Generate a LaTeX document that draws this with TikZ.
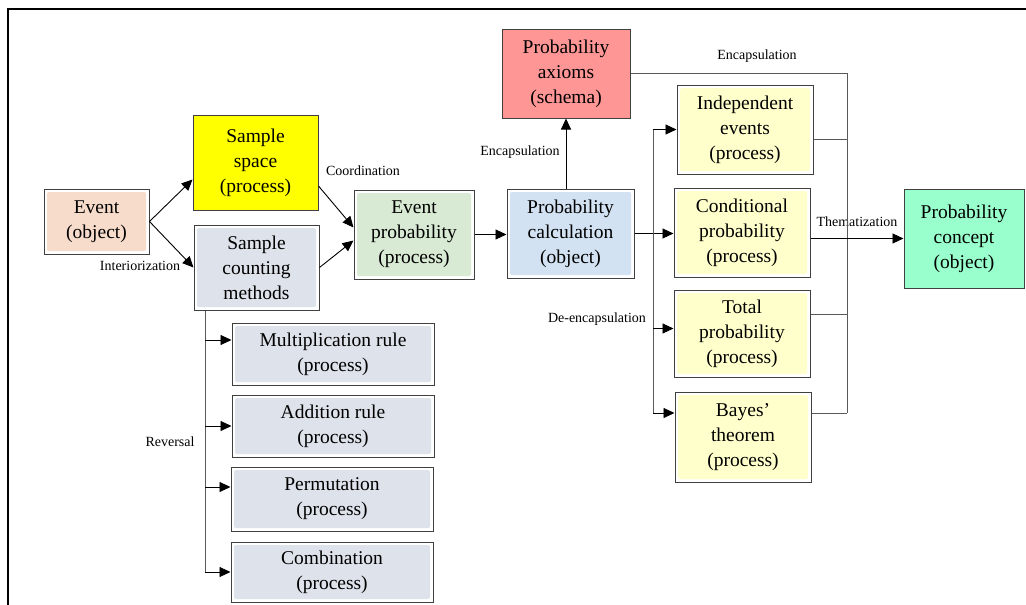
\documentclass[tikz,border=0pt]{standalone}
\usepackage{fontspec}
\setmainfont{Liberation Serif}
\usetikzlibrary{arrows.meta}

\definecolor{eventc}{HTML}{F8DCCB}
\definecolor{spacec}{HTML}{FFFF00}
\definecolor{countc}{HTML}{DEE2EA}
\definecolor{eprobc}{HTML}{D8EAD3}
\definecolor{calcc}{HTML}{D2E2F2}
\definecolor{axiomc}{HTML}{FF9696}
\definecolor{procc}{HTML}{FFFFCC}
\definecolor{conceptc}{HTML}{99FFCC}

\begin{document}
\begin{tikzpicture}
    [ x = 1pt, y = -1pt
    , box/.style =
      { draw = black!75, line width = 1pt, align = center, inner sep = 2pt
      , font = \fontsize{19.5}{25}\selectfont }
    , glow/.style =
      { fill = white
      , path picture =
        { \fill [#1, rounded corners = 2pt]
            ([shift={(3pt,-3pt)}]path picture bounding box.north west) rectangle
            ([shift={(-3pt,3pt)}]path picture bounding box.south east); } }
    , dims/.style 2 args =
      { minimum width = #1pt, minimum height = #2pt }
    , link/.style =
      { draw = black!65, line width = .9pt }
    , arrow/.style =
      { draw = black, line width = .9pt, -{Triangle[length=11pt,width=10pt]} }
    , tag/.style =
      { font = \fontsize{14}{15}\selectfont, inner sep = 0pt }
    ]
    \useasboundingbox (0,0) rectangle (1026,605);
    \draw [line width = 2pt] (8,606) -- (8,9) -- (1027,9);

    % objects and processes
    \node [box, glow=eventc, dims={105}{65}] (event) at (96.5,221.5) {Event\\(object)};
    \node [box, fill=spacec, dims={125}{95}] (space) at (255.5,162.5) {Sample\\space\\(process)};
    \node [box, glow=countc, dims={125}{85}] (count) at (256.5,267.5) {Sample\\counting\\methods};
    \node [box, glow=eprobc, dims={120}{89}] (eprob) at (414,234.5) {Event\\probability\\(process)};
    \node [box, glow=calcc, dims={127}{89}] (calc) at (570.5,233.5) {Probability\\calculation\\(object)};
    \node [box, fill=axiomc, dims={128}{89}] (axioms) at (566,73.5) {Probability\\axioms\\(schema)};
    \node [box, glow=procc, dims={136}{89}] (indep) at (745,129.5) {Independent\\events\\(process)};
    \node [box, glow=procc, dims={136}{89}] (cond) at (742,232.5) {Conditional\\probability\\(process)};
    \node [box, glow=procc, dims={136}{87}] (total) at (742,333.5) {Total\\probability\\(process)};
    \node [box, glow=procc, dims={136}{90}] (bayes) at (743,437) {Bayes'\\theorem\\(process)};
    \node [box, fill=conceptc, dims={120}{99}] (concept) at (964,238.5) {Probability\\concept\\(object)};
    \node [box, glow=countc, dims={202}{62}] (mult) at (333,354) {Multiplication rule\\(process)};
    \node [box, glow=countc, dims={202}{62}] (add) at (333,426) {Addition rule\\(process)};
    \node [box, glow=countc, dims={202}{64}] (perm) at (332,499) {Permutation\\(process)};
    \node [box, glow=countc, dims={202}{60}] (comb) at (332,572) {Combination\\(process)};

    % labels
    \node [tag] (enc1) at (757,56) {Encapsulation};
    \node [tag] (thema) at (857,222) {Thematization};
    \node [tag] (coord) at (363,171) {Coordination};
    \node [tag] (inter) at (140,266) {Interiorization};
    \node [tag] (enc2) at (520,152) {Encapsulation};
    \node [tag] (deenc) at (597,319) {De-encapsulation};
    \node [tag] (rev) at (170,442) {Reversal};

    % bus lines and ends
    \coordinate (sbus) at (205,0);
    \coordinate (lbus) at (653,0);
    \coordinate (rbus) at (847,0);
    \coordinate (spaceout) at ([yshift=-23.5pt]space.east);
    \coordinate (eprobin1) at ([yshift=7pt]eprob.west);
    \coordinate (eprobin2) at ([yshift=-6pt]eprob.west);
    \coordinate (spacein) at ([yshift=-17pt]space.west);
    \coordinate (multin) at ([yshift=14pt]mult.west);
    \coordinate (permin) at ([yshift=12pt]perm.west);
    \coordinate (totalin) at ([yshift=5pt]total.west);
    \coordinate (bayesin) at ([yshift=24pt]bayes.west);
    \coordinate (indepout) at ([yshift=-9.5pt]indep.east);
    \coordinate (totalout) at ([yshift=19.5pt]total.east);
    \coordinate (bayesout) at ([yshift=24pt]bayes.east);

    \draw [arrow] (event.east) -- (spacein);
    \draw [arrow] (event.east) -- (count.west);
    \draw [arrow] (spaceout) -- (eprobin1);
    \draw [arrow] (count.east) -- (eprobin2);
    \draw [arrow] (eprob.east) -- (eprob.east -| calc.west);
    \draw [arrow] (axioms.south |- calc.north) -- (axioms.south);
    \draw [arrow] (calc.east) -- (calc.east -| cond.west);

    \draw [link] (lbus |- indep.west) -- (lbus |- bayesin);
    \draw [arrow] (lbus |- indep.west) -- (indep.west);
    \draw [arrow] (lbus |- totalin) -- (totalin);
    \draw [arrow] (lbus |- bayesin) -- (bayesin);

    \draw [link] (axioms.east) -| (rbus |- bayesout);
    \draw [link] (indepout) -- (indepout -| rbus);
    \draw [link] (totalout) -- (totalout -| rbus);
    \draw [link] (bayesout) -- (bayesout -| rbus);
    \draw [arrow] (concept.west -| cond.east) -- (concept.west);

    \draw [link] (sbus |- count.south) -- (sbus |- comb.west);
    \draw [arrow] (sbus |- multin) -- (multin);
    \draw [arrow] (sbus |- add.west) -- (add.west);
    \draw [arrow] (sbus |- permin) -- (permin);
    \draw [arrow] (sbus |- comb.west) -- (comb.west);
\end{tikzpicture}
\end{document}
